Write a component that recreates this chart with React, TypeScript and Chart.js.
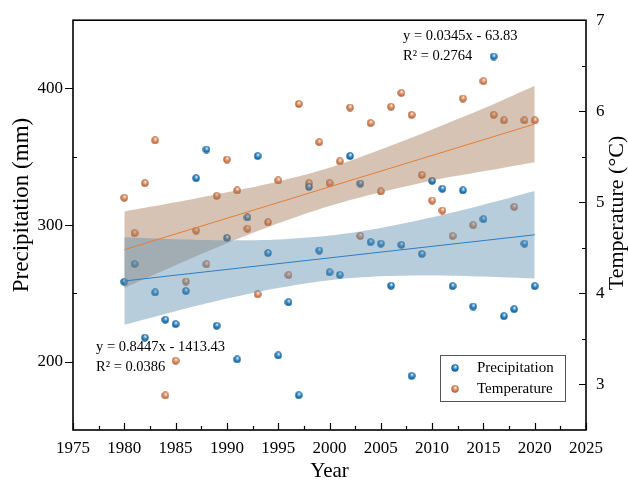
import React, { useEffect, useRef } from "react";
import { Chart, registerables } from "chart.js";

Chart.register(...registerables);

const years = [1980, 1981, 1982, 1983, 1984, 1985, 1986, 1987, 1988, 1989, 1990, 1991, 1992, 1993, 1994, 1995, 1996, 1997, 1998, 1999, 2000, 2001, 2002, 2003, 2004, 2005, 2006, 2007, 2008, 2009, 2010, 2011, 2012, 2013, 2014, 2015, 2016, 2017, 2018, 2019, 2020];
const precipitation = [258.5, 271.5, 217.6, 250.7, 230.7, 227.5, 251.7, 334.3, 355.3, 226.3, 290.6, 201.7, 305.6, 350.5, 279.5, 204.6, 243.5, 175.4, 328.0, 281.4, 265.4, 263.6, 350.5, 330.4, 287.5, 286.4, 255.6, 285.5, 189.6, 278.8, 332.4, 326.6, 255.3, 325.4, 240.4, 304.3, 423.4, 233.3, 238.4, 286.4, 255.3];
const temperature = [5.05, 4.66, 5.21, 5.68, 2.88, 3.26, 4.13, 4.69, 4.32, 5.07, 5.47, 5.13, 4.71, 3.99, 4.78, 5.24, 4.20, 6.08, 5.21, 5.66, 5.21, 5.45, 6.04, 4.63, 5.87, 5.12, 6.05, 6.20, 5.96, 5.30, 5.02, 4.91, 4.63, 6.14, 4.75, 6.33, 5.96, 5.90, 4.95, 5.90, 5.90];

const fitYears = [1980, 2020];
const precipFit = [259.1, 292.9];
const tempFit = [4.48, 5.86];

const bandYears = [1980, 1985, 1990, 1995, 2000, 2005, 2010, 2015, 2020];
const precipBandUpper = [291.1, 289.6, 288.8, 289.4, 292.3, 297.9, 305.7, 314.9, 324.9];
const precipBandLower = [227.1, 237.0, 246.2, 254.0, 259.7, 262.5, 263.1, 262.3, 260.9];
const tempBandUpper = [4.90, 5.00, 5.11, 5.23, 5.38, 5.58, 5.80, 6.03, 6.28];
const tempBandLower = [4.06, 4.31, 4.55, 4.77, 4.96, 5.11, 5.24, 5.34, 5.44];

const xTicks = [1975, 1980, 1985, 1990, 1995, 2000, 2005, 2010, 2015, 2020, 2025];
const xMinorTicks = [1977.5, 1982.5, 1987.5, 1992.5, 1997.5, 2002.5, 2007.5, 2012.5, 2017.5, 2022.5];
const precipTicks = [200, 300, 400];
const precipMinorTicks = [250, 350];
const tempTicks = [3, 4, 5, 6, 7];
const tempMinorTicks = [3.5, 4.5, 5.5, 6.5];

const precipEquation = ["y = 0.8447x - 1413.43", "R\u00B2 = 0.0386"];
const tempEquation = ["y = 0.0345x - 63.83", "R\u00B2 = 0.2764"];

const FONT = "'Liberation Serif', 'Times New Roman', serif";
const BLUE: [number, number, number] = [30, 124, 192];
const ORANGE: [number, number, number] = [222, 132, 82];

function makeSphere(base: [number, number, number], size = 8) {
  const c = document.createElement("canvas");
  c.width = size;
  c.height = size;
  const ctx = c.getContext("2d")!;
  const cx = size / 2, cy = size / 2, r = size / 2 - 0.3;
  const [R, G, B] = base;
  const g = ctx.createRadialGradient(cx + r * 0.15, cy - r * 0.45, 0.2, cx, cy, r);
  g.addColorStop(0, "rgb(255,255,255)");
  g.addColorStop(0.28, `rgb(${Math.round(R + (255 - R) * 0.45)},${Math.round(G + (255 - G) * 0.45)},${Math.round(B + (255 - B) * 0.45)})`);
  g.addColorStop(0.6, `rgb(${R},${G},${B})`);
  g.addColorStop(1, `rgb(${Math.round(R * 0.72)},${Math.round(G * 0.72)},${Math.round(B * 0.72)})`);
  ctx.fillStyle = g;
  ctx.beginPath();
  ctx.arc(cx, cy, r, 0, Math.PI * 2);
  ctx.fill();
  return c;
}

const toXY = (xs: number[], ys: number[]) => xs.map((x, i) => ({ x, y: ys[i] }));

export default function App() {
  const ref = useRef<HTMLCanvasElement>(null);

  useEffect(() => {
    document.body.style.margin = "0";
    const blueSphere = makeSphere(BLUE);
    const orangeSphere = makeSphere(ORANGE);

    const decor = {
      id: "decor",
      afterDraw(chart: any) {
        const { ctx, chartArea: a, scales } = chart;
        const sx = scales.x, sy = scales.y, sy1 = scales.y1;
        ctx.save();
        // tick marks
        ctx.strokeStyle = "#000";
        ctx.lineWidth = 1.2;
        ctx.beginPath();
        xTicks.forEach((v) => {
          const p = Math.round(sx.getPixelForValue(v)) + 0.5;
          ctx.moveTo(p, a.bottom);
          ctx.lineTo(p, a.bottom - 7);
        });
        xMinorTicks.forEach((v) => {
          const p = Math.round(sx.getPixelForValue(v)) + 0.5;
          ctx.moveTo(p, a.bottom);
          ctx.lineTo(p, a.bottom - 4);
        });
        precipTicks.forEach((v) => {
          const p = Math.round(sy.getPixelForValue(v)) + 0.5;
          ctx.moveTo(a.left, p);
          ctx.lineTo(a.left - 8, p);
        });
        precipMinorTicks.forEach((v) => {
          const p = Math.round(sy.getPixelForValue(v)) + 0.5;
          ctx.moveTo(a.left, p);
          ctx.lineTo(a.left + 4, p);
        });
        tempTicks.forEach((v) => {
          const p = Math.round(sy1.getPixelForValue(v)) + 0.5;
          ctx.moveTo(a.right, p);
          ctx.lineTo(a.right - 7, p);
        });
        tempMinorTicks.forEach((v) => {
          const p = Math.round(sy1.getPixelForValue(v)) + 0.5;
          ctx.moveTo(a.right, p);
          ctx.lineTo(a.right - 4, p);
        });
        ctx.stroke();
        // frame
        ctx.lineWidth = 1.6;
        ctx.strokeRect(a.left, a.top, a.right - a.left, a.bottom - a.top);

        // axis titles
        ctx.fillStyle = "#000";
        ctx.textAlign = "center";
        ctx.textBaseline = "middle";
        ctx.font = `21px ${FONT}`;
        ctx.fillText("Year", (a.left + a.right) / 2, 471);
        ctx.save();
        ctx.font = `23px ${FONT}`;
        ctx.translate(22, 205);
        ctx.rotate(-Math.PI / 2);
        ctx.fillText("Precipitation (mm)", 0, 0);
        ctx.restore();
        ctx.save();
        ctx.font = `22px ${FONT}`;
        ctx.translate(617, 213);
        ctx.rotate(-Math.PI / 2);
        ctx.fillText("Temperature (\u00B0C)", 0, 0);
        ctx.restore();

        // equations
        ctx.font = `14.5px ${FONT}`;
        ctx.textAlign = "left";
        ctx.fillText(tempEquation[0], 403, 36);
        ctx.fillText(tempEquation[1], 403, 56);
        ctx.fillText(precipEquation[0], 96, 347);
        ctx.fillText(precipEquation[1], 96, 367);

        // legend
        ctx.fillStyle = "#fff";
        ctx.fillRect(440, 355, 126, 47);
        ctx.strokeStyle = "#555";
        ctx.lineWidth = 1;
        ctx.strokeRect(440.5, 355.5, 125, 46);
        ctx.drawImage(blueSphere, 455 - 4, 368 - 4);
        ctx.drawImage(orangeSphere, 455 - 4, 389 - 4);
        ctx.fillStyle = "#000";
        ctx.font = `15px ${FONT}`;
        ctx.fillText(chart.data.datasets[6].label, 477, 368.5);
        ctx.fillText(chart.data.datasets[7].label, 477, 389.5);
        ctx.restore();
      },
    };

    const tickFont = { family: FONT, size: 17 };

    const chart = new Chart(ref.current!, {
      type: "scatter",
      data: {
        datasets: [
          {
            type: "line",
            label: "P upper",
            data: toXY(bandYears, precipBandUpper),
            yAxisID: "y",
            borderWidth: 0,
            pointRadius: 0,
            tension: 0.3,
            fill: false,
            order: 2,
          },
          {
            type: "line",
            label: "P lower",
            data: toXY(bandYears, precipBandLower),
            yAxisID: "y",
            borderWidth: 0,
            pointRadius: 0,
            tension: 0.3,
            fill: "-1",
            backgroundColor: "rgba(95,144,177,0.45)",
            order: 2,
          },
          {
            type: "line",
            label: "T upper",
            data: toXY(bandYears, tempBandUpper),
            yAxisID: "y1",
            borderWidth: 0,
            pointRadius: 0,
            tension: 0.3,
            fill: false,
            order: 2,
          },
          {
            type: "line",
            label: "T lower",
            data: toXY(bandYears, tempBandLower),
            yAxisID: "y1",
            borderWidth: 0,
            pointRadius: 0,
            tension: 0.3,
            fill: "-1",
            backgroundColor: "rgba(166,122,88,0.45)",
            order: 2,
          },
          {
            type: "line",
            label: "P fit",
            data: toXY(fitYears, precipFit),
            yAxisID: "y",
            borderColor: "rgb(45,125,195)",
            borderWidth: 1,
            pointRadius: 0,
            fill: false,
            order: 1,
          },
          {
            type: "line",
            label: "T fit",
            data: toXY(fitYears, tempFit),
            yAxisID: "y1",
            borderColor: "rgb(228,125,55)",
            borderWidth: 1,
            pointRadius: 0,
            fill: false,
            order: 1,
          },
          {
            label: "Precipitation",
            data: toXY(years, precipitation),
            yAxisID: "y",
            pointStyle: blueSphere,
            pointRadius: 4,
            order: 3,
          },
          {
            label: "Temperature",
            data: toXY(years, temperature),
            yAxisID: "y1",
            pointStyle: orangeSphere,
            pointRadius: 4,
            order: 3,
          },
        ],
      },
      options: {
        responsive: false,
        animation: false,
        devicePixelRatio: 1,
        layout: { padding: { top: 16, left: 0, right: 0, bottom: 0 } },
        plugins: { legend: { display: false }, tooltip: { enabled: false } },
        events: [],
        scales: {
          x: {
            type: "linear",
            min: 1975,
            max: 2025,
            afterBuildTicks: (s: any) => {
              s.ticks = xTicks.map((v) => ({ value: v }));
            },
            afterFit: (s: any) => {
              s.height = 53;
            },
            grid: { display: false, drawTicks: false, tickLength: 0 },
            border: { display: false },
            ticks: {
              padding: 8,
              font: tickFont,
              color: "#000",
              maxRotation: 0,
              autoSkip: false,
              callback: (v: any) => String(v),
            },
          },
          y: {
            type: "linear",
            position: "left",
            min: 150,
            max: 450,
            afterBuildTicks: (s: any) => {
              s.ticks = precipTicks.map((v) => ({ value: v }));
            },
            afterFit: (s: any) => {
              s.width = 73;
            },
            grid: { display: false, drawTicks: false, tickLength: 0 },
            border: { display: false },
            ticks: {
              padding: 10,
              font: tickFont,
              color: "#000",
              callback: (v: any) => String(v),
            },
          },
          y1: {
            type: "linear",
            position: "right",
            min: 2.5,
            max: 7,
            afterBuildTicks: (s: any) => {
              s.ticks = tempTicks.map((v) => ({ value: v }));
            },
            afterFit: (s: any) => {
              s.width = 42;
            },
            grid: { display: false, drawTicks: false, tickLength: 0 },
            border: { display: false },
            ticks: {
              padding: 10,
              font: tickFont,
              color: "#000",
              callback: (v: any) => String(v),
            },
          },
        },
      },
      plugins: [decor],
    } as any);

    return () => chart.destroy();
  }, []);

  return (
    <div style={{ width: 628, height: 483 }}>
      <canvas ref={ref} width={628} height={483} style={{ display: "block" }} />
    </div>
  );
}
